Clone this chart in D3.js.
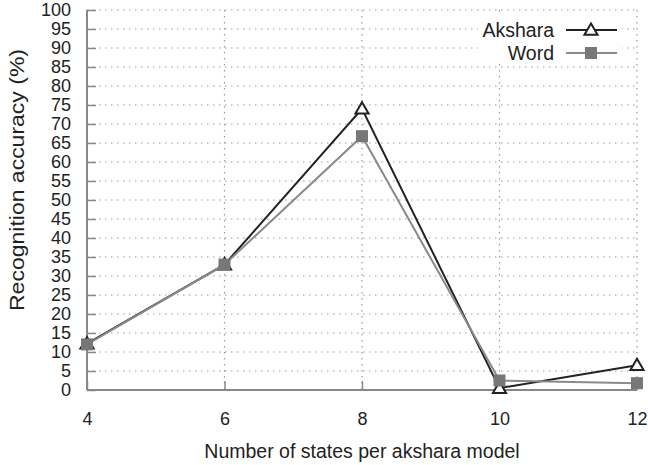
<!DOCTYPE html>
<html>
<head>
<meta charset="utf-8">
<script src="https://cdn.jsdelivr.net/npm/d3@7"></script>
<style>
  body { margin: 0; background: #fff; }
  text { font-family: "Liberation Sans", Arial, sans-serif; fill: #222; }
</style>
</head>
<body>
<div id="chart-area"></div>
<script>
// states per akshara model
const states = [4, 6, 8, 10, 12];
const akshara = [12.2, 33, 74, 0.5, 6.5];
const word = [12, 33, 66.8, 2.5, 1.8];
const yTicks = d3.range(0, 101, 5);

const MARGIN = { LEFT: 87, RIGHT: 11, TOP: 10, BOTTOM: 75 };
const W = 648, H = 465;
const WIDTH = W - MARGIN.LEFT - MARGIN.RIGHT;
const HEIGHT = H - MARGIN.TOP - MARGIN.BOTTOM;

const svg = d3.select('#chart-area').append('svg')
  .attr('width', W).attr('height', H);

const g = svg.append('g')
  .attr('transform', `translate(${MARGIN.LEFT},${MARGIN.TOP})`);

const x = d3.scaleLinear().domain([4, 12]).range([0, WIDTH]);
const y = d3.scaleLinear().domain([0, 100]).range([HEIGHT, 0]);

// dotted grid
g.append('g').selectAll('line.h')
  .data(yTicks.filter(d => d > 0))
  .enter().append('line')
  .attr('x1', 0).attr('x2', WIDTH)
  .attr('y1', d => y(d)).attr('y2', d => y(d))
  .attr('stroke', '#999').attr('stroke-width', 1.2)
  .attr('stroke-dasharray', '1.5,4.5');

g.append('g').selectAll('line.v')
  .data(states.slice(1))
  .enter().append('line')
  .attr('x1', d => x(d)).attr('x2', d => x(d))
  .attr('y1', 0).attr('y2', HEIGHT)
  .attr('stroke', '#999').attr('stroke-width', 1.2)
  .attr('stroke-dasharray', '1.5,4.5');

// axes
const yAxis = g.append('g')
  .call(d3.axisLeft(y).tickValues(yTicks).tickSize(-9).tickPadding(16));
const xAxis = g.append('g')
  .attr('transform', `translate(0,${HEIGHT})`)
  .call(d3.axisBottom(x).tickValues(states).tickSize(-9).tickPadding(22).tickFormat(d3.format('d')));

[yAxis, xAxis].forEach(a => {
  a.select('.domain').attr('stroke', '#888').attr('stroke-width', 2);
  a.selectAll('.tick line').attr('stroke', '#888').attr('stroke-width', 1.5);
  a.selectAll('.tick text').attr('font-size', 18).attr('fill', '#222')
    .attr('font-family', '"Liberation Sans", Arial, sans-serif');
});
yAxis.select('.domain').attr('d', `M0,0V${HEIGHT}`);
xAxis.select('.domain').attr('d', `M0,0H${WIDTH}`);

// axis labels
g.append('text')
  .attr('x', WIDTH / 2).attr('y', HEIGHT + 68)
  .attr('text-anchor', 'middle').attr('font-size', 19.5)
  .text('Number of states per akshara model');

g.append('text')
  .attr('transform', 'translate(-63,170) rotate(-90) scale(1.18,1)')
  .attr('text-anchor', 'middle').attr('font-size', 19.5)
  .text('Recognition accuracy (%)');

const line = d3.line().x((d, i) => x(states[i])).y(d => y(d));

const series = [
  { name: 'Akshara', values: akshara, color: '#222', marker: 'triangle' },
  { name: 'Word', values: word, color: '#8a8a8a', marker: 'square' }
];

const tri = d3.symbol().type(d3.symbolTriangle).size(75);

const drawMarker = (sel, s) => {
  if (s.marker === 'triangle') {
    sel.append('path').attr('d', tri())
      .attr('fill', '#fff').attr('stroke', s.color).attr('stroke-width', 2);
  } else {
    sel.append('rect').attr('x', -6).attr('y', -6).attr('width', 12).attr('height', 12)
      .attr('fill', '#777');
  }
};

// each series: line then its points, Word on top
series.forEach(s => {
  g.append('path').datum(s.values)
    .attr('d', line).attr('fill', 'none')
    .attr('stroke', s.color).attr('stroke-width', 2);
  s.values.forEach((v, i) => {
    const m = g.append('g').attr('transform', `translate(${x(states[i])},${y(v) + (s.marker === 'triangle' ? 1 : 0)})`);
    drawMarker(m, s);
  });
});

// legend
const legend = g.append('g');
legend.append('rect').attr('x', 391).attr('y', 5).attr('width', 144).attr('height', 48).attr('fill', '#fff');
series.forEach((s, i) => {
  const row = legend.append('g').attr('transform', `translate(0,${20 + i * 23})`);
  row.append('text').attr('x', 467).attr('y', 7)
    .attr('text-anchor', 'end').attr('font-size', 19.5).text(s.name);
  row.append('line').attr('x1', 479).attr('x2', 530).attr('y1', 0).attr('y2', 0)
    .attr('stroke', s.color).attr('stroke-width', 2);
  const m = row.append('g').attr('transform', `translate(504,${s.marker === 'triangle' ? 1 : 0})`);
  drawMarker(m, s);
});
</script>
</body>
</html>
